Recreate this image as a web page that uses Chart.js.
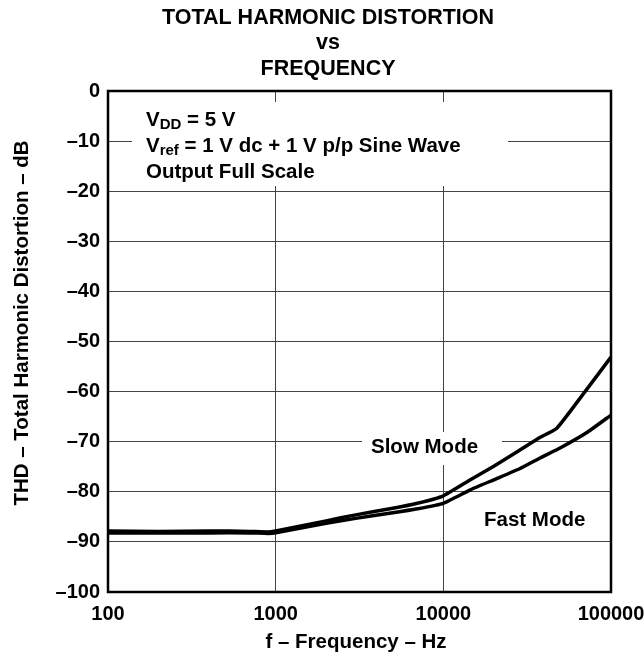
<!DOCTYPE html>
<html>
<head>
<meta charset="utf-8">
<script src="https://cdn.jsdelivr.net/npm/chart.js@4.4.0/dist/chart.umd.min.js"></script>
<style>
  body { margin: 0; background: #fff; }
  #wrap { width: 644px; height: 658px; position: relative; }
</style>
</head>
<body>
<div id="wrap"><canvas id="thdChart"></canvas></div>
<script>
// Frequency (Hz) and THD (dB)
const slowFreq = [100, 200, 400, 700, 900, 1000, 2000, 3000, 5000, 7000, 10000, 14500, 20000, 28500, 37000, 47500, 70000, 100000];
const slowThd  = [-87.8, -87.9, -87.8, -87.9, -88.0, -87.8, -85.8, -84.6, -83.3, -82.3, -80.8, -77.6, -74.9, -71.7, -69.3, -67.3, -60.0, -53.1];

const fastFreq = [100, 200, 400, 700, 900, 1000, 2000, 3000, 5000, 7000, 10000, 14500, 20000, 28500, 38000, 50000, 73000, 100000];
const fastThd  = [-88.2, -88.2, -88.2, -88.2, -88.3, -88.2, -86.3, -85.3, -84.2, -83.4, -82.3, -79.6, -77.6, -75.4, -73.2, -71.2, -68.0, -64.7];

const xTicks = [100, 1000, 10000, 100000];
const yTicks = [0, -10, -20, -30, -40, -50, -60, -70, -80, -90, -100];

const FONT = '"Liberation Sans", Arial, Helvetica, sans-serif';

function toPoints(xs, ys) {
  return xs.map((x, i) => ({ x: x, y: ys[i] }));
}

// Draw text with a subscript run, e.g. V + DD
function drawRuns(ctx, runs, x, y) {
  runs.forEach(r => {
    ctx.font = 'bold ' + (r.sub ? 15 : 20.5) + 'px ' + FONT;
    ctx.fillText(r.t, x, y + (r.sub ? 5 : 0));
    x += ctx.measureText(r.t).width;
  });
}

const decorPlugin = {
  id: 'decor',
  beforeDraw(chart) {
    const ctx = chart.ctx;
    ctx.save();
    ctx.fillStyle = '#fff';
    ctx.fillRect(0, 0, chart.width, chart.height);
    ctx.restore();
  },
  beforeDatasetsDraw(chart) {
    const ctx = chart.ctx;
    const a = chart.chartArea;
    ctx.save();

    // white boxes behind the labels hide the grid
    ctx.fillStyle = '#fff';
    ctx.fillRect(132, 102, 376, 84);
    ctx.fillRect(362, 432, 140, 33);

    // plot frame
    ctx.strokeStyle = '#000';
    ctx.lineWidth = 2.5;
    ctx.strokeRect(a.left, a.top, a.right - a.left, a.bottom - a.top);

    ctx.fillStyle = '#000';
    ctx.textBaseline = 'middle';
    ctx.textAlign = 'left';
    drawRuns(ctx, [{ t: 'V' }, { t: 'DD', sub: true }, { t: ' = 5 V' }], 146, 120);
    drawRuns(ctx, [{ t: 'V' }, { t: 'ref', sub: true }, { t: ' = 1 V dc + 1 V p/p Sine Wave' }], 146, 146);
    drawRuns(ctx, [{ t: 'Output Full Scale' }], 146, 172);
    drawRuns(ctx, [{ t: 'Slow Mode' }], 371, 447);
    drawRuns(ctx, [{ t: 'Fast Mode' }], 484, 520);
    ctx.restore();
  },
  afterDraw(chart) {
    const ctx = chart.ctx;
    const a = chart.chartArea;
    ctx.save();
    ctx.fillStyle = '#000';
    ctx.textAlign = 'center';
    ctx.textBaseline = 'middle';

    // title
    ctx.font = 'bold 21.5px ' + FONT;
    ctx.fillText('TOTAL HARMONIC DISTORTION', 328, 18);
    ctx.fillText('vs', 328, 43);
    ctx.fillText('FREQUENCY', 328, 69);

    // axis titles
    ctx.font = 'bold 20.5px ' + FONT;
    ctx.fillText('f – Frequency – Hz', 356, 642);
    ctx.translate(22, 323);
    ctx.rotate(-Math.PI / 2);
    ctx.fillText('THD – Total Harmonic Distortion – dB', 0, 0);
    ctx.restore();
  }
};

const ctx = document.getElementById('thdChart').getContext('2d');

new Chart(ctx, {
  type: 'line',
  data: {
    datasets: [
      {
        label: 'Slow Mode',
        data: toPoints(slowFreq, slowThd),
        borderColor: '#000',
        borderWidth: 3.5,
        pointRadius: 0,
        tension: 0.15,
        fill: false
      },
      {
        label: 'Fast Mode',
        data: toPoints(fastFreq, fastThd),
        borderColor: '#000',
        borderWidth: 3.5,
        pointRadius: 0,
        tension: 0.15,
        fill: false
      }
    ]
  },
  options: {
    responsive: true,
    maintainAspectRatio: false,
    animation: false,
    layout: { padding: { left: 0, right: 33, top: 91, bottom: 0 } },
    plugins: {
      legend: { display: false },
      tooltip: { enabled: false },
      title: { display: false }
    },
    scales: {
      x: {
        type: 'logarithmic',
        min: 100,
        max: 100000,
        afterBuildTicks: scale => {
          scale.ticks = xTicks.map(v => ({ value: v }));
        },
        afterFit: scale => {
          scale.height = 66;
          scale.paddingLeft = 0;
          scale.paddingRight = 0;
        },
        border: { display: false },
        grid: { color: '#444', lineWidth: 1, drawTicks: false },
        ticks: {
          autoSkip: false,
          maxRotation: 0,
          padding: 10,
          color: '#000',
          font: { family: FONT, size: 20, weight: 'bold' },
          callback: value => String(value)
        }
      },
      y: {
        min: -100,
        max: 0,
        afterBuildTicks: scale => {
          scale.ticks = yTicks.map(v => ({ value: v }));
        },
        afterFit: scale => {
          scale.width = 108;
          scale.paddingTop = 0;
          scale.paddingBottom = 0;
        },
        border: { display: false },
        grid: { color: '#444', lineWidth: 1, drawTicks: false },
        ticks: {
          padding: 8,
          color: '#000',
          font: { family: FONT, size: 20, weight: 'bold' },
          callback: value => (value < 0 ? '–' + Math.abs(value) : String(value))
        }
      }
    }
  },
  plugins: [decorPlugin]
});
</script>
</body>
</html>
